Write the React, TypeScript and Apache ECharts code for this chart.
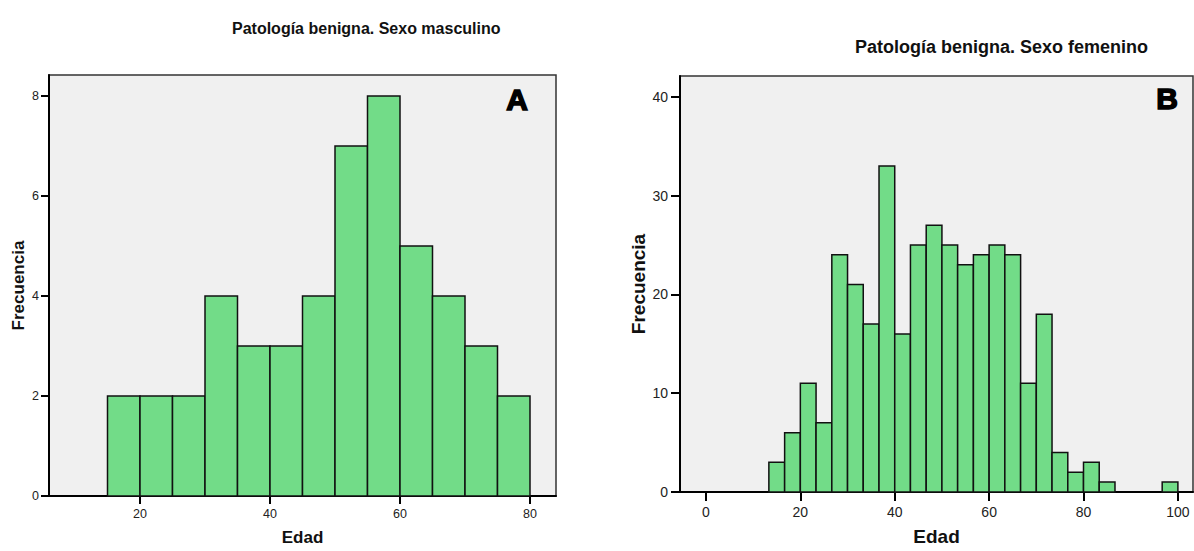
import React, { useEffect, useRef } from "react";
import * as echarts from "echarts";

// ---- Data ----
const maleBinEdges = [15, 20, 25, 30, 35, 40, 45, 50, 55, 60, 65, 70, 75, 80];
const maleCounts = [2, 2, 2, 4, 3, 3, 4, 7, 8, 5, 4, 3, 2];

const femaleBinEdges = [
  13.33, 16.67, 20, 23.33, 26.67, 30, 33.33, 36.67, 40, 43.33, 46.67, 50, 53.33,
  56.67, 60, 63.33, 66.67, 70, 73.33, 76.67, 80, 83.33, 86.67, 90, 93.33, 96.67, 100,
];
const femaleCounts = [
  3, 6, 11, 7, 24, 21, 17, 33, 16, 25, 27, 25, 23, 24, 25, 24, 11, 18, 4, 2, 3, 1, 0, 0, 0, 1,
];

const maleXTicks = [20, 40, 60, 80];
const maleYTicks = [0, 2, 4, 6, 8];
const femaleXTicks = [0, 20, 40, 60, 80, 100];
const femaleYTicks = [0, 10, 20, 30, 40];

const titleMale = "Patología benigna. Sexo masculino";
const titleFemale = "Patología benigna. Sexo femenino";
const xName = "Edad";
const yName = "Frecuencia";

const FONT = "Arial, 'Liberation Sans', sans-serif";
const BAR = "#72dc88";

function toBins(edges: number[], counts: number[]) {
  const out: number[][] = [];
  counts.forEach((c, i) => {
    if (c > 0) out.push([edges[i], edges[i + 1], c]);
  });
  return out;
}

function renderBar(params: any, api: any) {
  const x0 = api.value(0);
  const x1 = api.value(1);
  const y = api.value(2);
  const p0 = api.coord([x0, 0]);
  const p1 = api.coord([x1, y]);
  return {
    type: "rect",
    shape: { x: p0[0], y: p1[1], width: p1[0] - p0[0], height: p0[1] - p1[1] },
    style: { fill: BAR, stroke: "#111", lineWidth: 1.5 },
  };
}

function xAxis(gridIndex: number, min: number, max: number, ticks: number[], nameGap: number, tickLen: number, margin: number, labelSize: number, nameSize: number) {
  return {
    type: "value",
    gridIndex,
    min,
    max,
    name: xName,
    nameLocation: "middle",
    nameGap,
    nameTextStyle: { fontFamily: FONT, fontSize: nameSize, fontWeight: "bold", color: "#111" },
    axisLine: { show: true, onZero: false, lineStyle: { color: "#000", width: 2 } },
    axisTick: { show: true, inside: false, customValues: ticks, length: tickLen, lineStyle: { color: "#000", width: 2 } },
    axisLabel: { customValues: ticks, margin, fontFamily: FONT, fontSize: labelSize, color: "#222" },
    splitLine: { show: false },
  };
}

function yAxis(gridIndex: number, max: number, ticks: number[], nameGap: number, tickLen: number, margin: number, labelSize: number, nameSize: number) {
  return {
    type: "value",
    gridIndex,
    min: 0,
    max,
    name: yName,
    nameLocation: "middle",
    nameGap,
    nameTextStyle: { fontFamily: FONT, fontSize: nameSize, fontWeight: "bold", color: "#111" },
    axisLine: { show: true, onZero: false, lineStyle: { color: "#000", width: 2 } },
    axisTick: { show: true, inside: false, customValues: ticks, length: tickLen, lineStyle: { color: "#000", width: 2 } },
    axisLabel: { customValues: ticks, margin, fontFamily: FONT, fontSize: labelSize, color: "#222" },
    splitLine: { show: false },
  };
}

export default function App() {
  const ref = useRef<HTMLDivElement>(null);

  useEffect(() => {
    document.body.style.margin = "0";
    const chart = echarts.init(ref.current!, null, { renderer: "svg" });
    chart.setOption({
      animation: false,
      backgroundColor: "#fff",
      title: [
        {
          text: titleMale,
          left: 227,
          top: 15,
          textStyle: { fontFamily: FONT, fontSize: 16, fontWeight: "bold", color: "#111" },
        },
        {
          text: titleFemale,
          left: 850,
          top: 33,
          textStyle: { fontFamily: FONT, fontSize: 18, fontWeight: "bold", color: "#111" },
        },
      ],
      grid: [
        {
          left: 49,
          top: 75,
          width: 507,
          height: 421,
          show: true,
          backgroundColor: "#f0f0f0",
          borderColor: "#333",
          borderWidth: 1.5,
        },
        {
          left: 680,
          top: 76,
          width: 513,
          height: 420,
          show: true,
          backgroundColor: "#f0f0f0",
          borderColor: "#333",
          borderWidth: 1.5,
        },
      ],
      xAxis: [
        xAxis(0, 6, 84, maleXTicks, 33, 8, 11, 12.5, 17),
        xAxis(1, -5.5, 103.2, femaleXTicks, 35, 9, 13, 14, 19),
      ],
      yAxis: [
        yAxis(0, 8.42, maleYTicks, 22, 8, 10, 12.5, 17),
        yAxis(1, 42.1, femaleYTicks, 32, 9, 12, 14, 19),
      ],
      series: [
        {
          type: "custom",
          xAxisIndex: 0,
          yAxisIndex: 0,
          renderItem: renderBar,
          data: toBins(maleBinEdges, maleCounts),
          encode: { x: [0, 1], y: 2 },
        },
        {
          type: "custom",
          xAxisIndex: 1,
          yAxisIndex: 1,
          renderItem: renderBar,
          data: toBins(femaleBinEdges, femaleCounts),
          encode: { x: [0, 1], y: 2 },
        },
      ],
      graphic: [
        {
          type: "text",
          x: 517,
          y: 99,
          style: {
            text: "A",
            fontFamily: FONT,
            fontSize: 30,
            fontWeight: "bold",
            fill: "#000",
            stroke: "#000",
            lineWidth: 1.5,
            align: "center",
            verticalAlign: "middle",
          },
        },
        {
          type: "text",
          x: 1167,
          y: 98,
          style: {
            text: "B",
            fontFamily: FONT,
            fontSize: 30,
            fontWeight: "bold",
            fill: "#000",
            stroke: "#000",
            lineWidth: 1.5,
            align: "center",
            verticalAlign: "middle",
          },
        },
      ],
    });
    return () => chart.dispose();
  }, []);

  return (
    <div
      ref={ref}
      style={{ position: "fixed", left: 0, top: 0, width: 1194, height: 551 }}
    />
  );
}
